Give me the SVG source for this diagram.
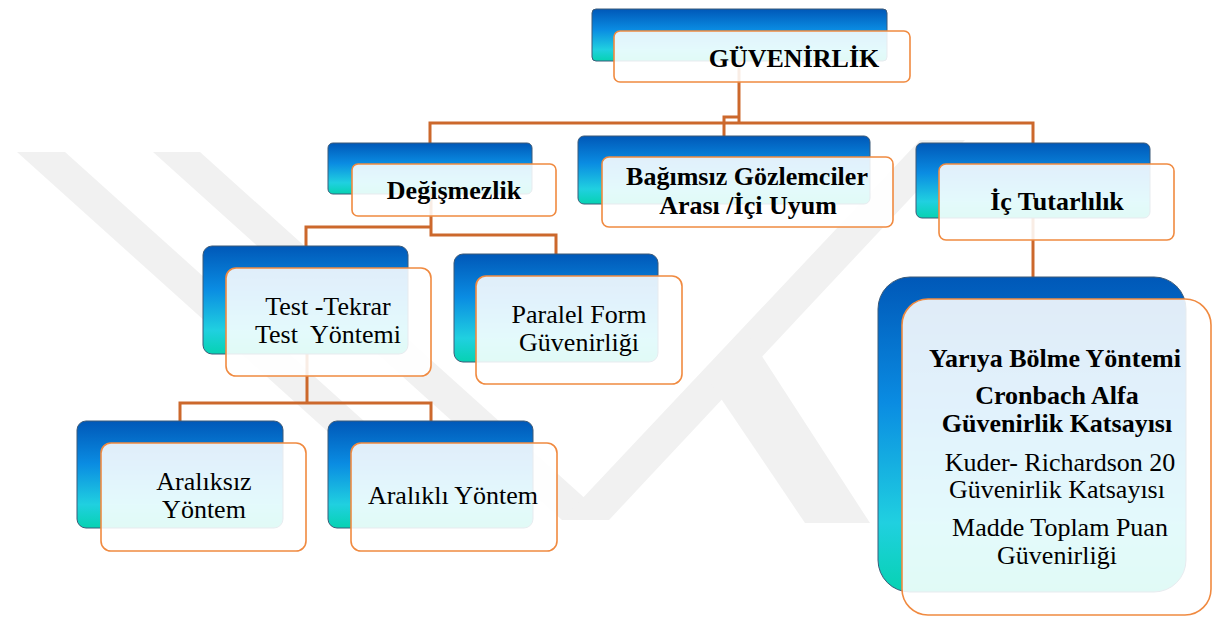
<svg xmlns="http://www.w3.org/2000/svg" width="1219" height="617" viewBox="0 0 1219 617">
<style>
.wm{fill:#f1f1f1}
.back{fill:url(#blueGrad);stroke:#3c5a78;stroke-width:1}
.front{fill:#ffffff;fill-opacity:0.88;stroke:#f08a40;stroke-width:1.6}
.conn{fill:none;stroke:#cc682c;stroke-width:3}
.t{font-size:26px;fill:#000;text-anchor:middle}
.b{font-weight:bold}
</style>
<defs>
<linearGradient id="blueGrad" x1="0" y1="0" x2="0" y2="1">
<stop offset="0" stop-color="#0058b8"/>
<stop offset="0.4" stop-color="#0a8ce2"/>
<stop offset="0.78" stop-color="#20d0e0"/>
<stop offset="1" stop-color="#06d2b2"/>
</linearGradient>
</defs>
<rect width="1219" height="617" fill="#ffffff"/>
<g id="watermark">
<polygon class="wm" points="17,152 65,152 385,440 337,440"/>
<polygon class="wm" points="153,152 200,152 609,520 562,520"/>
<polygon class="wm" points="562,520 609,520 965,140 920,140"/>
<polygon class="wm" points="703,372 745,330 870,523 805,523"/>
</g>
<g id="connectors">
<path class="conn" d="M739 60 V123"/>
<path class="conn" d="M430 143 V123 H1033 V143"/>
<path class="conn" d="M724 136 V117 H739"/>
<path class="conn" d="M431 194 V235 H556 V254"/>
<path class="conn" d="M306 246 V227 H431"/>
<path class="conn" d="M307 354 V403"/>
<path class="conn" d="M180 421 V403 H431 V421"/>
<path class="conn" d="M1033 218 V277"/>
</g>
<g font-family="Liberation Serif, DejaVu Serif, serif">
<g id="node-guvenirlik">
<rect class="back" x="592" y="9" width="295" height="52" rx="4"/>
<rect class="front" x="614" y="31" width="296" height="51" rx="6"/>
<text class="t b" x="794" y="67">GÜVENİRLİK</text>
</g>
<g id="node-degismezlik">
<rect class="back" x="328" y="143" width="204" height="51" rx="5"/>
<rect class="front" x="352" y="164" width="204" height="52" rx="6"/>
<text class="t b" x="454" y="199">Değişmezlik</text>
</g>
<g id="node-bagimsiz">
<rect class="back" x="578" y="136" width="292" height="68" rx="6"/>
<rect class="front" x="602" y="157" width="291" height="70" rx="7"/>
<text class="t b" x="747" y="185">Bağımsız Gözlemciler</text>
<text class="t b" x="748" y="214">Arası /İçi Uyum</text>
</g>
<g id="node-ic-tutarlilik">
<rect class="back" x="916" y="143" width="234" height="75" rx="6"/>
<rect class="front" x="939" y="164" width="235" height="76" rx="7"/>
<text class="t b" x="1057" y="210">İç Tutarlılık</text>
</g>
<g id="node-test-tekrar">
<rect class="back" x="203" y="246" width="205" height="108" rx="9"/>
<rect class="front" x="226" y="268" width="205" height="108" rx="10"/>
<text class="t" x="328" y="315">Test -Tekrar</text>
<text class="t" x="328" y="343" xml:space="preserve">Test  Yöntemi</text>
</g>
<g id="node-paralel">
<rect class="back" x="454" y="254" width="204" height="108" rx="9"/>
<rect class="front" x="476" y="276" width="206" height="108" rx="10"/>
<text class="t" x="579" y="323">Paralel Form</text>
<text class="t" x="579" y="351">Güvenirliği</text>
</g>
<g id="node-araliksiz">
<rect class="back" x="77" y="421" width="206" height="107" rx="9"/>
<rect class="front" x="101" y="443" width="205" height="108" rx="10"/>
<text class="t" x="204" y="490">Aralıksız</text>
<text class="t" x="204" y="518">Yöntem</text>
</g>
<g id="node-aralikli">
<rect class="back" x="328" y="421" width="205" height="107" rx="9"/>
<rect class="front" x="351" y="443" width="206" height="108" rx="10"/>
<text class="t" x="453" y="504">Aralıklı Yöntem</text>
</g>
<g id="node-yontemler">
<rect class="back" x="878" y="277" width="308" height="315" rx="32"/>
<rect class="front" x="902" y="299" width="309" height="316" rx="26"/>
<text class="t b" x="1055" y="367">Yarıya Bölme Yöntemi</text>
<text class="t b" x="1057" y="404">Cronbach Alfa</text>
<text class="t b" x="1057" y="432">Güvenirlik Katsayısı</text>
<text class="t" x="1060" y="471">Kuder- Richardson 20</text>
<text class="t" x="1057" y="498">Güvenirlik Katsayısı</text>
<text class="t" x="1060" y="536">Madde Toplam Puan</text>
<text class="t" x="1057" y="564">Güvenirliği</text>
</g>
</g>
</svg>
